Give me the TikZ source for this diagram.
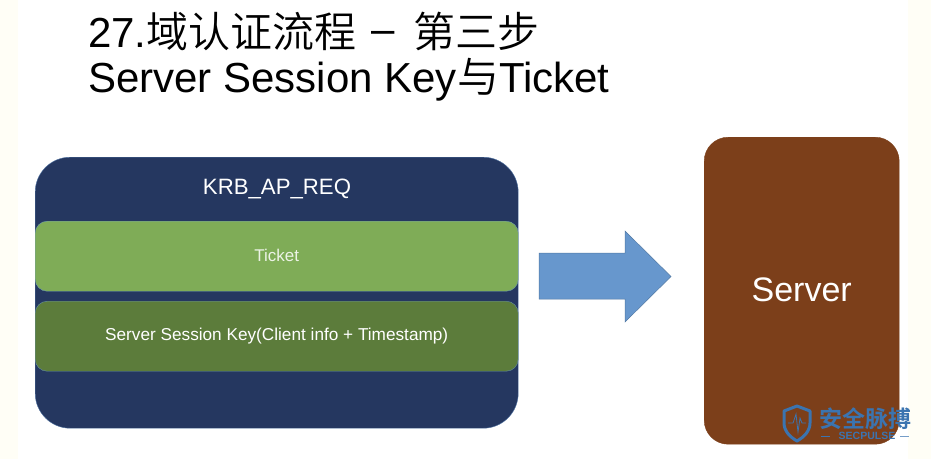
\documentclass[tikz,border=0pt]{standalone}
\usepackage{fontspec}
\setmainfont{Liberation Sans}
\newfontfamily\cjk[UprightFont=* DemiLight]{Noto Sans CJK SC}
\newfontfamily\cjkbold[UprightFont=* Bold]{Noto Sans CJK SC}
\usepackage{xcolor}
\definecolor{creambg}{HTML}{FFFEF6}
\definecolor{navybox}{HTML}{253760}
\definecolor{ticketgreen}{HTML}{7FAC57}
\definecolor{keygreen}{HTML}{5C7C3B}
\definecolor{serverbrown}{HTML}{7C3F1A}
\definecolor{arrowblue}{HTML}{6797CD}
\definecolor{logoblue}{HTML}{3B74B0}
\tikzset{
    slidebox/.style={draw=#1, anchor=north west, inner sep=0pt, align=center, text=white},
    titletext/.style={anchor=base west, inner sep=0pt, font=\fontsize{42}{42}\selectfont},
    logotext/.style={inner sep=0pt, text=logoblue}
}
\begin{document}
\begin{tikzpicture}[x=1pt, y=-1pt]
    \useasboundingbox (0,0) rectangle (931,459);
    \fill [creambg] (0,0) rectangle (931,459);
    \fill [white] (18,0) rectangle (908,459);

    % title
    \node [titletext] (title1) at (88,47) {27.{\cjk 域认证流程}\hspace{15pt}\raisebox{4pt}{–}\hspace{19pt}{\cjk 第三步}};
    \node [titletext] (title2) at (88,92) {Server Session Key{\cjk 与}Ticket};

    % left block
    \node [slidebox=arrowblue!60!navybox, fill=navybox, rounded corners=35pt, minimum width=483pt, minimum height=271pt] (req) at (35,157) {};
    \node [text=white, font=\fontsize{22.2}{22.2}\selectfont] (reqlabel) at (277,189) {KRB\_AP\_REQ};
    \node [slidebox=arrowblue!70!ticketgreen, fill=ticketgreen, rounded corners=12pt, minimum width=483pt, minimum height=70pt, font=\fontsize{17}{17}\selectfont, text=white!85!ticketgreen, text depth=1pt] (ticket) at (35,221) {Ticket};
    \node [slidebox=arrowblue!70!keygreen, fill=keygreen, rounded corners=12pt, minimum width=483pt, minimum height=70pt, font=\fontsize{17.2}{17.2}\selectfont] (sesskey) at (35,301) {Server Session Key(Client info + Timestamp)};

    % arrow
    \fill [arrowblue, draw=arrowblue!80!black, line width=0.5pt] (539,253) -- (625,253) -- (625,231) -- (671,276.5) -- (625,322) -- (625,299) -- (539,299) -- cycle;

    % server
    \node [slidebox=serverbrown, fill=serverbrown, rounded corners=24pt, minimum width=195pt, minimum height=307pt, font=\fontsize{34}{34}\selectfont, text depth=2pt] (server) at (704,137) {Server};

    % logo
    \draw [logoblue, line width=3pt, line join=round] (797,406) -- (784,411) -- (784,423) .. controls (784,431) and (790,437) .. (797,441) .. controls (804,437) and (810,431) .. (810,423) -- (810,411) -- cycle;
    \draw [logoblue, line width=0.8pt] (788,423) -- (793,423) -- (796,414) -- (798,432) -- (800,418) -- (802,423) -- (806,423);
    \node [logotext, font=\cjkbold\fontsize{23}{23}\selectfont, anchor=west] (logocn) at (819,419) {安全脉搏};
    \node [logotext, font=\bfseries\fontsize{10.5}{10.5}\selectfont] (logoen) at (867,436) {SECPULSE};
    \draw [logoblue, line width=0.8pt] (821,436) -- (830,436);
    \draw [logoblue!70!white, line width=0.8pt] (900,436) -- (909,436);
\end{tikzpicture}
\end{document}
